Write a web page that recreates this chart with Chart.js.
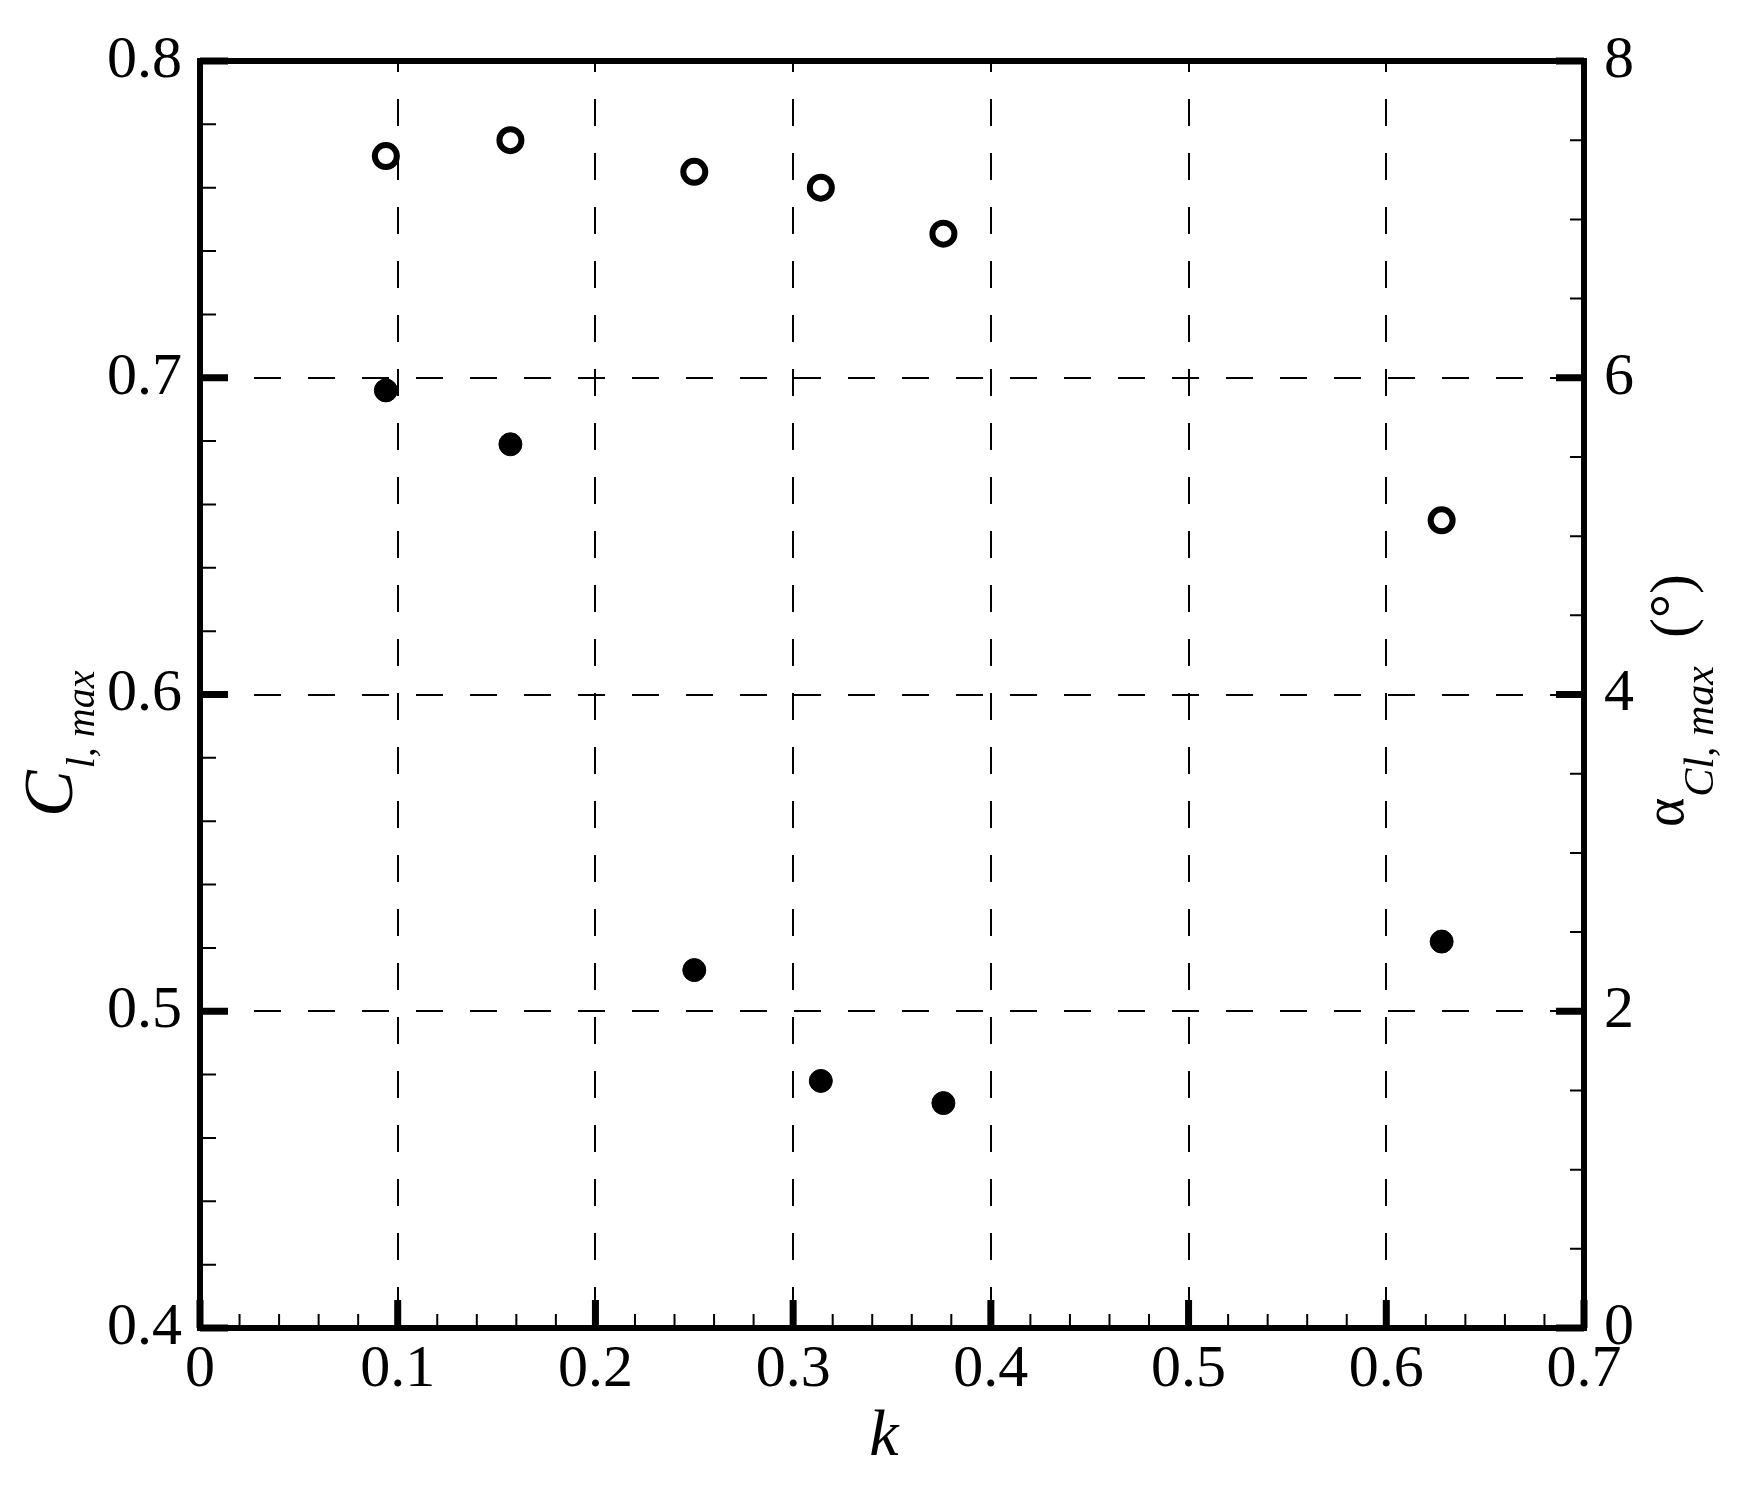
<!DOCTYPE html>
<html>
<head>
<meta charset="utf-8">
<script src="https://cdn.jsdelivr.net/npm/chart.js@4.4.0/dist/chart.umd.min.js"></script>
<style>
body { margin: 0; background: #fff; }
</style>
</head>
<body>
<canvas id="clmax" width="1762" height="1497"></canvas>
<script>

// reduced frequency k
const kValues = [0.094, 0.157, 0.25, 0.314, 0.376, 0.628];
// Cl,max (left axis, filled circles)
const clMax = [0.696, 0.679, 0.513, 0.478, 0.471, 0.522];
// alpha at Cl,max in degrees (right axis, open circles)
const alphaClMax = [7.40, 7.50, 7.30, 7.20, 6.91, 5.10];

const xTicks = [0, 0.1, 0.2, 0.3, 0.4, 0.5, 0.6, 0.7];
const yTicks = [0.4, 0.5, 0.6, 0.7, 0.8];
const alphaTicks = [0, 2, 4, 6, 8];

const serif = '"Liberation Serif", "Times New Roman", serif';

// frame, inward ticks and the axis titles with subscripts
const framePlugin = {
	id: 'frame',
	afterDraw(chart) {
		const c = chart.ctx;
		const a = chart.chartArea;
		const sx = chart.scales.x, sy = chart.scales.y, sa = chart.scales.y2;
		c.save();
		c.strokeStyle = '#000';
		c.lineCap = 'butt';

		// minor ticks
		c.lineWidth = 2;
		c.beginPath();
		for (let i = 1; i < 35; i++) {
			if (i % 5 == 0) continue;
			const px = sx.getPixelForValue(i * 0.02);
			c.moveTo(px, a.bottom); c.lineTo(px, a.bottom - 14);
		}
		for (let i = 1; i < 20; i++) {
			if (i % 5 == 0) continue;
			const py = sy.getPixelForValue(0.4 + i * 0.02);
			c.moveTo(a.left, py); c.lineTo(a.left + 16, py);
		}
		for (let i = 1; i < 16; i++) {
			if (i % 4 == 0) continue;
			const py = sa.getPixelForValue(i * 0.5);
			c.moveTo(a.right, py); c.lineTo(a.right - 14, py);
		}
		c.stroke();

		// major ticks
		c.lineWidth = 7;
		c.beginPath();
		xTicks.forEach(v => {
			const px = sx.getPixelForValue(v);
			c.moveTo(px, a.bottom); c.lineTo(px, a.bottom - 28);
		});
		yTicks.forEach(v => {
			const py = sy.getPixelForValue(v);
			c.moveTo(a.left, py); c.lineTo(a.left + 28, py);
		});
		alphaTicks.forEach(v => {
			const py = sa.getPixelForValue(v);
			c.moveTo(a.right, py); c.lineTo(a.right - 28, py);
		});
		c.stroke();

		// box
		c.lineWidth = 6;
		c.lineJoin = 'miter';
		c.strokeRect(a.left, a.top, a.right - a.left, a.bottom - a.top);

		c.fillStyle = '#000';
		c.textBaseline = 'alphabetic';

		// x title
		c.font = 'italic 66px ' + serif;
		c.textAlign = 'center';
		c.fillText('k', 884, 1455);
		c.textAlign = 'left';

		// left title  C_{l, max}
		c.save();
		c.translate(72, 817);
		c.rotate(-Math.PI / 2);
		c.font = 'italic 70px ' + serif;
		c.fillText('C', 0, 0);
		let w = c.measureText('C').width;
		c.font = 'italic 40px ' + serif;
		c.fillText('l, max', w + 2, 22);
		c.restore();

		// right title  alpha_{Cl, max} (°)
		c.save();
		c.translate(1683, 827);
		c.rotate(-Math.PI / 2);
		c.font = '56px ' + serif;
		c.fillText('\u03b1', 0, 0);
		w = c.measureText('\u03b1').width;
		c.font = 'italic 42px ' + serif;
		c.fillText('Cl, max', w + 1, 30);
		c.font = '60px ' + serif;
		c.fillText('(\u00b0)', 189, 8);
		c.restore();

		c.restore();
	}
};

function gridAt(list) {
	return ctx => list.some(v => Math.abs(ctx.tick.value - v) < 1e-6) ? '#000' : 'rgba(0,0,0,0)';
}

const ctx = document.getElementById('clmax').getContext('2d');

const chart = new Chart(ctx, {
	type: 'scatter',
	data: {
		datasets: [{
			label: 'Cl,max',
			data: kValues.map((k, i) => ({x: k, y: clMax[i]})),
			yAxisID: 'y',
			pointStyle: 'circle',
			pointRadius: 11.5,
			pointBorderWidth: 1,
			backgroundColor: '#000',
			borderColor: '#000'
		}, {
			label: 'alpha Cl,max',
			data: kValues.map((k, i) => ({x: k, y: alphaClMax[i]})),
			yAxisID: 'y2',
			pointStyle: 'circle',
			pointRadius: 11,
			pointBorderWidth: 6,
			backgroundColor: '#fff',
			borderColor: '#000'
		}]
	},
	options: {
		responsive: false,
		animation: false,
		devicePixelRatio: 1,
		layout: { padding: { top: 61, left: 0, right: 0, bottom: 0 } },
		plugins: {
			legend: { display: false },
			tooltip: { enabled: false }
		},
		scales: {
			x: {
				type: 'linear',
				min: 0,
				max: 0.7,
				afterFit: s => { s.height = 169; },
				afterBuildTicks: s => { s.ticks = xTicks.map(v => ({value: v})); },
				ticks: {
					padding: 6,
					color: '#000',
					font: { family: serif, size: 60, lineHeight: 1.2 },
					maxRotation: 0,
					autoSkip: false,
					callback: v => v == 0 ? '0' : v.toFixed(1)
				},
				grid: {
					drawTicks: false,
					lineWidth: 2,
					color: gridAt([0.1, 0.2, 0.3, 0.4, 0.5, 0.6])
				},
				border: { display: false, dash: [27, 27], dashOffset: 16 }
			},
			y: {
				type: 'linear',
				position: 'left',
				min: 0.4,
				max: 0.8,
				afterFit: s => { s.width = 200; },
				afterBuildTicks: s => { s.ticks = yTicks.map(v => ({value: v})); },
				ticks: {
					padding: 18,
					color: '#000',
					font: { family: serif, size: 60 },
					autoSkip: false,
					callback: v => v.toFixed(1)
				},
				grid: {
					drawTicks: false,
					lineWidth: 2,
					color: gridAt([0.5, 0.6, 0.7])
				},
				border: { display: false, dash: [27, 27] }
			},
			y2: {
				type: 'linear',
				position: 'right',
				min: 0,
				max: 8,
				afterFit: s => { s.width = 178; },
				afterBuildTicks: s => { s.ticks = alphaTicks.map(v => ({value: v})); },
				ticks: {
					padding: 20,
					color: '#000',
					font: { family: serif, size: 60 },
					autoSkip: false
				},
				grid: { display: false, drawTicks: false },
				border: { display: false }
			}
		}
	},
	plugins: [framePlugin]
});

</script>
</body>
</html>
